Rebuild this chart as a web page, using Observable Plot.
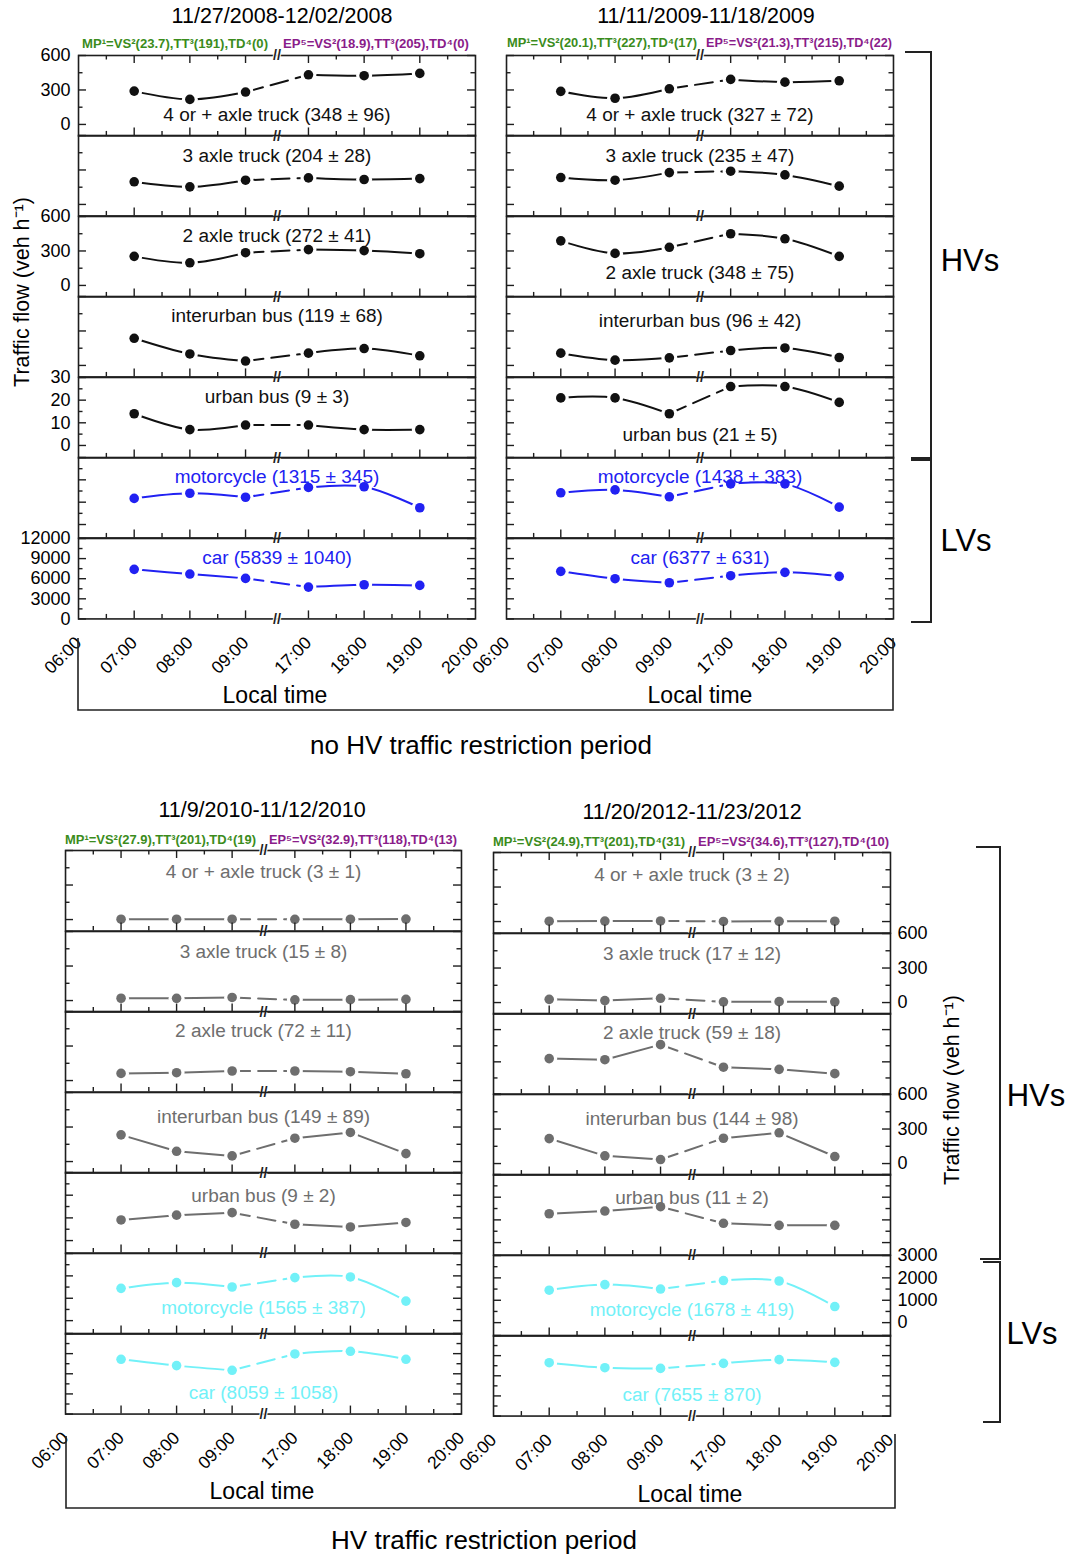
<!DOCTYPE html>
<html><head><meta charset="utf-8">
<script src="https://cdn.jsdelivr.net/npm/d3@7"></script>
<script src="https://cdn.jsdelivr.net/npm/@observablehq/plot@0.6"></script>
<style>
body{margin:0;background:#fff;}
#page{position:relative;width:1071px;height:1555px;font-family:"Liberation Sans",Arial,sans-serif;background:#fff;overflow:hidden}
.panel{position:absolute;}
#overlay{position:absolute;left:0;top:0;pointer-events:none;overflow:visible}
</style></head><body><div id="page"></div>
<script>
// ---------------- data ----------------
const hours = [7, 8, 9, 17, 18, 19];
const tickHours = [6, 7, 8, 9, 17, 18, 19, 20];
const tickLabels = ["06:00","07:00","08:00","09:00","17:00","18:00","19:00","20:00"];
const minorHours = [6.5, 7.5, 8.5, 17.5, 18.5, 19.5];
const categories = ["4 or + axle truck","3 axle truck","2 axle truck","interurban bus","urban bus","motorcycle","car"];
const vehicleGroup = ["HV","HV","HV","HV","HV","LV","LV"];
const periods = ["11/27/2008-12/02/2008","11/11/2009-11/18/2009","11/9/2010-11/12/2010","11/20/2012-11/23/2012"];
const restricted = [false, false, true, true];

const mpVS = [23.7, 20.1, 27.9, 24.9];
const mpTT = [191, 227, 201, 201];
const mpTD = [0, 17, 19, 31];
const epVS = [18.9, 21.3, 32.9, 34.6];
const epTT = [205, 215, 118, 127];
const epTD = [0, 22, 13, 10];

const means2008 = [348, 204, 272, 119, 9, 1315, 5839];
const sds2008   = [96, 28, 41, 68, 3, 345, 1040];
const means2009 = [327, 235, 348, 96, 21, 1438, 6377];
const sds2009   = [72, 47, 75, 42, 5, 383, 631];
const means2010 = [3, 15, 72, 149, 9, 1565, 8059];
const sds2010   = [1, 8, 11, 89, 2, 387, 1058];
const means2012 = [3, 17, 59, 144, 11, 1678, 7655];
const sds2012   = [2, 12, 18, 98, 2, 419, 870];

// hourly flows (veh/h) at 07,08,09,17,18,19 for each category
const flow2008 = [
  [290, 218, 282, 432, 424, 444],
  [197, 153, 211, 231, 217, 225],
  [253, 197, 285, 312, 303, 276],
  [236, 100, 38, 107, 147, 84],
  [14, 7, 9, 9, 7, 7],
  [1170, 1400, 1220, 1660, 1690, 750],
  [7400, 6700, 6050, 4750, 5100, 5000]
];
const flow2009 = [
  [288, 228, 310, 392, 368, 380],
  [234, 211, 277, 289, 257, 159],
  [388, 279, 332, 450, 406, 253],
  [107, 46, 66, 130, 152, 69],
  [21, 21, 14, 26, 26, 19],
  [1420, 1550, 1240, 1820, 1820, 780],
  [7100, 6000, 5400, 6450, 6950, 6350]
];
const flow2010 = [
  [3, 3, 3, 2, 3, 4],
  [20, 19, 27, 6, 8, 10],
  [62, 68, 83, 83, 77, 59],
  [232, 89, 49, 203, 253, 69],
  [9.1, 11.2, 12.3, 7.2, 6.0, 8.0],
  [1443, 1698, 1503, 1923, 1953, 873],
  [8160, 7215, 6520, 8950, 9350, 8160]
];
const flow2012 = [
  [3, 4, 5, 1, 2, 3],
  [28, 17, 37, 6, 8, 6],
  [66, 64, 92, 50, 46, 38],
  [217, 67, 35, 220, 267, 61],
  [12.7, 13.9, 15.8, 8.5, 7.6, 7.6],
  [1450, 1700, 1500, 1880, 1860, 720],
  [7950, 7200, 7100, 7850, 8400, 8000]
];

// y axes per category
const yDomains = [[-100, 600], [-100, 600], [-100, 600], [-100, 600], [-5.5, 30], [-600, 3000], [0, 12000]];
const yMajor = [[0, 300, 600], [0, 300, 600], [0, 300, 600], [0, 300, 600], [0, 10, 20, 30], [0, 1000, 2000, 3000], [0, 3000, 6000, 9000, 12000]];
const yMinor = [[150, 450], [150, 450], [150, 450], [150, 450], [5, 15, 25], [500, 1500, 2500], [1500, 4500, 7500, 10500]];
// the 2 axle truck panel of 11/20/2012-11/23/2012 uses its own y range
const yDomainAlt = [0, 150];
const yMajorAlt = [0, 60, 120];
const yMinorAlt = [30, 90];

// ---------------- layout / style ----------------
const quadFrames = [
  {x: 78, w: 397, top: 55, bottom: 618},
  {x: 506, w: 387, top: 55, bottom: 618},
  {x: 65, w: 396, top: 850, bottom: 1414},
  {x: 493, w: 397, top: 852, bottom: 1416}
];
const labelDy = [
  [59, 20, 19, 19, 19, 19, 19],
  [59, 20, 56, 24, 57, 19, 19],
  [21, 20, 19.5, 24, 23, 54, 59],
  [22, 20, 19.5, 24, 23, 54, 59]
];
const leftLabels = [[1,0,1,0,1,0,1],[0,0,0,0,0,0,0],[0,0,0,0,0,0,0],[0,0,0,0,0,0,0]];
const rightLabels = [[0,0,0,0,0,0,0],[0,0,0,0,0,0,0],[0,0,0,0,0,0,0],[0,1,0,1,0,1,0]];
const colorHV = ["#111111", "#111111", "#6e6e6e", "#6e6e6e"];
const colorLV = ["#2121f2", "#2121f2", "#72f1f8", "#72f1f8"];
const FONT = "'Liberation Sans', Arial, sans-serif";
const ML = 70, MR = 70;

const flows = [flow2008, flow2009, flow2010, flow2012];
const means = [means2008, means2009, means2010, means2012];
const sds = [sds2008, sds2009, sds2010, sds2012];
const breakAt = (hours[2] + hours[3]) / 2;

const page = document.getElementById("page");

function breakMark(anchor) {
  return Plot.text(["//"], {x: () => breakAt, frameAnchor: anchor, lineAnchor: "middle", textAnchor: "middle",
    fontSize: 14.5, fontWeight: "bold", fill: "#1e1e1e", stroke: "white", strokeWidth: 2, paintOrder: "stroke", fontFamily: FONT});
}

function drawPanel(q, i, F, ph) {
  const u = F.w / 7.13, g = F.w - 6 * u;
  const xRange = [ML, ML + 3 * u, ML + 3 * u + g, ML + 6 * u + g];
  const alt = (q === 3 && i === 2);
  const yd = alt ? yDomainAlt : yDomains[i];
  const yMaj = alt ? yMajorAlt : yMajor[i];
  const yMin = alt ? yMinorAlt : yMinor[i];
  const color = vehicleGroup[i] === "HV" ? colorHV[q] : colorLV[q];
  const curve = (restricted[q] && vehicleGroup[i] === "HV") ? "linear" : "catmull-rom";
  const data = hours.map((h, k) => ({h, v: flows[q][i][k]}));
  const morning = data.filter(d => d.h < breakAt);
  const evening = data.filter(d => d.h > breakAt);
  const bridge = [morning[morning.length - 1], evening[0]];
  const label = `${categories[i]} (${means[q][i]} ± ${sds[q][i]})`;
  const ax = "#1e1e1e";
  const marks = [
    Plot.line(morning, {x: "h", y: "v", stroke: color, strokeWidth: 2, curve}),
    Plot.line(evening, {x: "h", y: "v", stroke: color, strokeWidth: 2, curve}),
    Plot.line(bridge, {x: "h", y: "v", stroke: color, strokeWidth: 2, strokeDasharray: "18,8"}),
    Plot.dot(data, {x: "h", y: "v", r: 8, fill: "white"}),
    Plot.dot(data, {x: "h", y: "v", r: 4.8, fill: color}),
    Plot.text([label], {frameAnchor: "top", lineAnchor: "middle", textAnchor: "middle", dy: labelDy[q][i], fill: color, fontSize: 19, fontFamily: FONT}),
    Plot.frame({stroke: ax, strokeWidth: 1.6}),
    Plot.tickX(hours, {x: d => d, insetTop: ph - 8, stroke: ax, strokeWidth: 1.4}),
    Plot.tickX(minorHours, {x: d => d, insetTop: ph - 4.5, stroke: ax, strokeWidth: 1.4}),
    Plot.tickY(yMaj, {y: d => d, insetRight: F.w - 8, stroke: ax, strokeWidth: 1.4}),
    Plot.tickY(yMaj, {y: d => d, insetLeft: F.w - 8, stroke: ax, strokeWidth: 1.4}),
    Plot.tickY(yMin, {y: d => d, insetRight: F.w - 4.5, stroke: ax, strokeWidth: 1.4}),
    Plot.tickY(yMin, {y: d => d, insetLeft: F.w - 4.5, stroke: ax, strokeWidth: 1.4}),
    breakMark("bottom")
  ];
  if (i === 0) {
    marks.push(Plot.tickX(hours, {x: d => d, insetBottom: ph - 8, stroke: ax, strokeWidth: 1.4}));
    marks.push(Plot.tickX(minorHours, {x: d => d, insetBottom: ph - 4.5, stroke: ax, strokeWidth: 1.4}));
    marks.push(breakMark("top"));
  }
  if (leftLabels[q][i]) marks.push(Plot.axisY({anchor: "left", ticks: yMaj, tickSize: 0, tickPadding: 8, tickFormat: d => String(d), fontSize: 18, label: null, fill: "#000", fontFamily: FONT}));
  if (rightLabels[q][i]) marks.push(Plot.axisY({anchor: "right", ticks: yMaj, tickSize: 0, tickPadding: 7, tickFormat: d => String(d), fontSize: 18, label: null, fill: "#000", fontFamily: FONT}));
  if (i === 6) marks.push(Plot.axisX({anchor: "bottom", ticks: tickHours, tickSize: 0, tickPadding: 21, tickRotate: -45, tickFormat: d => tickLabels[tickHours.indexOf(d)], fontSize: 17.5, label: null, fill: "#000", fontFamily: FONT}));
  return Plot.plot({
    width: ML + F.w + MR,
    height: ph,
    marginLeft: ML, marginRight: MR, marginTop: 0, marginBottom: 0,
    x: {type: "linear", domain: [tickHours[0], hours[2], hours[3], tickHours[7]], range: xRange, axis: null},
    y: {type: "linear", domain: yd, axis: null},
    style: {overflow: "visible", background: "transparent", fontFamily: FONT},
    marks
  });
}

quadFrames.forEach((F, q) => {
  const ph = (F.bottom - F.top) / 7;
  categories.forEach((cat, i) => {
    const div = document.createElement("div");
    div.className = "panel";
    div.style.left = (F.x - ML) + "px";
    div.style.top = (F.top + i * ph) + "px";
    div.appendChild(drawPanel(q, i, F, ph));
    page.appendChild(div);
  });
});

// ---------------- overlay: titles, annotations, brackets ----------------
const ov = d3.select(page).append("svg").attr("id", "overlay").attr("width", 1071).attr("height", 1555)
  .style("font-family", FONT);
function txt(x, y, s, size, opts = {}) {
  const t = ov.append("text").attr("x", x).attr("y", y).attr("font-size", size)
    .attr("text-anchor", opts.anchor || "middle").attr("dominant-baseline", "central")
    .attr("fill", opts.fill || "#000").text(s);
  if (opts.weight) t.attr("font-weight", opts.weight);
  if (opts.rotate) t.attr("transform", `rotate(${opts.rotate},${x},${y})`);
  if (opts.len) t.attr("textLength", opts.len).attr("lengthAdjust", "spacingAndGlyphs");
  return t;
}
const titlePos = [[282, 16], [706, 16], [262, 810], [692, 812]];
periods.forEach((p, q) => txt(titlePos[q][0], titlePos[q][1], p, 21.5));

const mpPos = [
  {y: 44, gx: 82, gw: 186, px: 283, pw: 186},
  {y: 43, gx: 507, gw: 190, px: 706, pw: 186},
  {y: 840, gx: 65, gw: 191, px: 269, pw: 188},
  {y: 842, gx: 493, gw: 192, px: 698, pw: 191}
];
mpPos.forEach((m, q) => {
  txt(m.gx, m.y, `MP¹=VS²(${mpVS[q]}),TT³(${mpTT[q]}),TD⁴(${mpTD[q]})`, 12.5, {anchor: "start", fill: "#3b8c1c", weight: "bold", len: m.gw});
  txt(m.px, m.y, `EP⁵=VS²(${epVS[q]}),TT³(${epTT[q]}),TD⁴(${epTD[q]})`, 12.5, {anchor: "start", fill: "#8a1c8a", weight: "bold", len: m.pw});
});

// y titles
txt(22, 292, "Traffic flow (veh h⁻¹)", 21.5, {rotate: -90});
txt(952, 1090, "Traffic flow (veh h⁻¹)", 21.5, {rotate: -90});

// brackets
const br = "#222";
ov.append("path").attr("d", "M905,52H931V458H911").attr("fill", "none").attr("stroke", br).attr("stroke-width", 2);
ov.append("path").attr("d", "M911,460H931V622H911").attr("fill", "none").attr("stroke", br).attr("stroke-width", 2);
ov.append("path").attr("d", "M976,847H1000V1259H980").attr("fill", "none").attr("stroke", br).attr("stroke-width", 2);
ov.append("path").attr("d", "M983,1262H1000V1422H983").attr("fill", "none").attr("stroke", br).attr("stroke-width", 2);
txt(970, 260, "HVs", 31);
txt(966, 540, "LVs", 31);
txt(1036, 1095, "HVs", 31);
txt(1032, 1333, "LVs", 31);

// local time boxes
ov.append("path").attr("d", "M78,638V710H893V638").attr("fill", "none").attr("stroke", br).attr("stroke-width", 1.6);
ov.append("path").attr("d", "M66,1436V1508H895V1434").attr("fill", "none").attr("stroke", br).attr("stroke-width", 1.6);
txt(275, 695, "Local time", 23);
txt(700, 695, "Local time", 23);
txt(262, 1491, "Local time", 23);
txt(690, 1494, "Local time", 23);

// captions
txt(481, 745, "no HV traffic restriction period", 26);
txt(484, 1540, "HV traffic restriction period", 26);
</script></body></html>
